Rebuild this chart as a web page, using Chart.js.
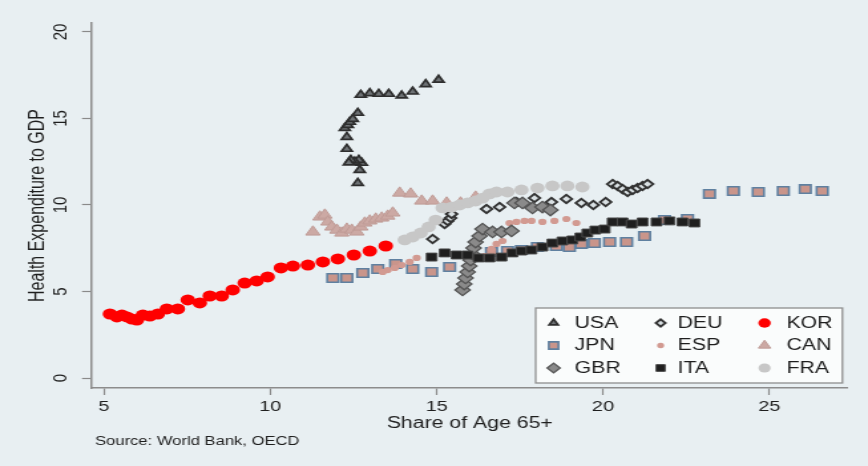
<!DOCTYPE html>
<html>
<head>
<meta charset="utf-8">
<script src="https://cdn.jsdelivr.net/npm/chart.js@4/dist/chart.umd.min.js"></script>
<style>
  html, body { margin: 0; padding: 0; background: #e8eff2; overflow: hidden; }
  /* the figure is laid out on a narrower canvas and widened horizontally */
  #stage { width: 653px; height: 466px; transform: scaleX(1.3292); transform-origin: 0 0; }
  canvas { display: block; }
</style>
</head>
<body>
<div id="stage"><canvas id="chart" width="653" height="466"></canvas></div>
<script>
// Share of population aged 65+ (x, %) against health expenditure (y, % of GDP)
const usaAge    = [12.63, 12.69, 12.75, 12.66, 12.54, 12.42, 12.36, 12.30, 12.30, 12.24, 12.33, 12.39, 12.48, 12.63, 12.72, 12.99, 13.26, 13.56, 13.95, 14.28, 14.67, 15.06];
const usaHealth = [11.27, 12.02, 12.43, 12.60, 12.50, 12.60, 12.45, 13.24, 13.93, 14.45, 14.62, 14.80, 14.97, 15.32, 16.36, 16.46, 16.42, 16.42, 16.32, 16.55, 16.98, 17.23];

const deuAge    = [14.88, 15.24, 15.33, 15.42, 15.45, 16.50, 16.89, 17.40, 17.94, 18.45, 18.90, 19.35, 19.71, 20.08, 20.29, 20.44, 20.59, 20.74, 20.89, 21.04, 21.19, 21.34];
const deuHealth = [8.03, 8.90, 9.08, 9.25, 9.48, 9.77, 9.88, 10.17, 10.40, 10.17, 10.35, 10.12, 10.00, 10.17, 11.21, 11.10, 10.92, 10.75, 10.87, 10.98, 11.10, 11.21];

const korAge    = [5.18, 5.39, 5.54, 5.69, 5.84, 5.99, 6.17, 6.38, 6.62, 6.89, 7.22, 7.52, 7.88, 8.18, 8.54, 8.87, 9.23, 9.59, 9.92, 10.32, 10.68, 11.13, 11.58, 12.03, 12.51, 12.99, 13.47];
const korHealth = [3.70, 3.53, 3.64, 3.53, 3.41, 3.35, 3.64, 3.58, 3.70, 3.99, 3.99, 4.51, 4.34, 4.74, 4.74, 5.09, 5.49, 5.61, 5.84, 6.36, 6.47, 6.53, 6.71, 6.88, 7.11, 7.34, 7.63];

const jpnAge    = [11.88, 12.30, 12.78, 13.23, 13.77, 14.28, 14.85, 15.39, 16.65, 17.13, 17.55, 18.03, 18.60, 18.99, 19.35, 19.74, 20.20, 20.71, 21.25, 21.85, 22.54, 23.20, 23.92, 24.67, 25.42, 26.08, 26.59];
const jpnHealth = [5.78, 5.78, 6.07, 6.30, 6.59, 6.30, 6.13, 6.42, 7.28, 7.34, 7.40, 7.57, 7.63, 7.57, 7.75, 7.80, 7.86, 7.86, 8.21, 9.13, 9.19, 10.64, 10.81, 10.75, 10.81, 10.92, 10.81];

const espAge    = [13.38, 13.53, 13.74, 13.95, 14.19, 14.40, 16.44, 16.65, 16.80, 16.98, 17.19, 17.40, 17.64, 17.85, 18.18, 18.54, 18.90, 19.20];
const espHealth = [6.13, 6.24, 6.36, 6.53, 6.71, 6.94, 7.05, 7.46, 7.75, 7.92, 8.96, 9.02, 9.08, 9.08, 9.02, 9.08, 9.19, 8.96];

const canAge    = [11.28, 11.49, 11.64, 11.73, 11.85, 12.00, 12.15, 12.30, 12.45, 12.60, 12.72, 12.84, 12.99, 13.17, 13.35, 13.53, 13.68, 13.89, 14.22, 14.55, 14.88, 15.30, 15.72, 16.17];
const canHealth = [8.44, 9.31, 9.42, 9.02, 8.73, 8.55, 8.38, 8.61, 8.55, 8.44, 8.73, 8.96, 9.08, 9.19, 9.25, 9.36, 9.54, 10.69, 10.64, 10.23, 10.23, 10.12, 10.12, 10.46];

const gbrAge    = [15.78, 15.83, 15.87, 15.93, 15.98, 16.02, 16.07, 16.11, 16.17, 16.29, 16.38, 16.68, 16.95, 17.25, 17.34, 17.58, 17.88, 18.18, 18.42];
const gbrHealth = [5.09, 5.43, 5.78, 6.13, 6.47, 6.82, 7.17, 7.51, 7.86, 8.21, 8.61, 8.44, 8.44, 8.50, 10.12, 10.12, 9.83, 9.88, 9.71];

const itaAge    = [14.85, 15.24, 15.60, 15.93, 16.26, 16.59, 16.95, 17.28, 17.55, 17.85, 18.18, 18.48, 18.78, 19.08, 19.32, 19.53, 19.77, 20.05, 20.29, 20.59, 20.86, 21.19, 21.61, 22.00, 22.39, 22.75];
const itaHealth = [6.99, 7.23, 7.11, 7.11, 6.94, 6.94, 6.99, 7.23, 7.34, 7.40, 7.57, 7.80, 7.92, 7.98, 8.15, 8.38, 8.55, 8.61, 9.02, 9.02, 8.90, 9.02, 9.02, 9.08, 9.02, 8.96];

const fraAge    = [14.04, 14.28, 14.52, 14.76, 14.97, 15.18, 15.45, 15.69, 15.93, 16.17, 16.38, 16.59, 16.80, 17.13, 17.55, 18.03, 18.48, 18.93, 19.38];
const fraHealth = [7.98, 8.15, 8.38, 8.73, 9.13, 9.83, 9.88, 10.00, 10.12, 10.23, 10.40, 10.64, 10.75, 10.75, 10.87, 10.98, 11.10, 11.10, 11.04];

const countries = ['USA', 'DEU', 'KOR', 'JPN', 'ESP', 'CAN', 'GBR', 'ITA', 'FRA'];
const ages      = [usaAge, deuAge, korAge, jpnAge, espAge, canAge, gbrAge, itaAge, fraAge];
const healths   = [usaHealth, deuHealth, korHealth, jpnHealth, espHealth, canHealth, gbrHealth, itaHealth, fraHealth];

const xTicks = [5, 10, 15, 20, 25];
const yTicks = [0, 5, 10, 15, 20];

// marker look for each country
const markerStyles = {
  USA: { pointStyle: 'triangle', radius: 4.6, bg: '#6f7376', border: '#2e2e2e', bw: 1.7 },
  DEU: { pointStyle: 'rectRot',  radius: 4.2, bg: '#d9e0e3', border: '#333333', bw: 1.9 },
  KOR: { pointStyle: 'circle',   radius: 5.5, bg: '#ff0000', border: '#ff0000', bw: 0 },
  JPN: { pointStyle: 'rect',     radius: 6.0, bg: '#c9958b', border: '#5f80a0', bw: 1.6 },
  ESP: { pointStyle: 'circle',   radius: 3.1, bg: '#d29a91', border: '#d29a91', bw: 0 },
  CAN: { pointStyle: 'triangle', radius: 6.2, bg: '#cca9a4', border: '#bf9b96', bw: 1 },
  GBR: { pointStyle: 'rectRot',  radius: 5.7, bg: '#8a8a8a', border: '#555555', bw: 1.3 },
  ITA: { pointStyle: 'rect',     radius: 5.6, bg: '#1f1f1f', border: '#4a4a4a', bw: 1 },
  FRA: { pointStyle: 'circle',   radius: 5.4, bg: '#c7c7c7', border: '#c7c7c7', bw: 0 }
};

const FONT = '"Liberation Sans", Arial, Helvetica, sans-serif';
const TEXT = '#1e1e1e';

const datasets = countries.map((code, i) => {
  const s = markerStyles[code];
  return {
    label: code,
    data: ages[i].map((x, k) => ({ x: x, y: healths[i][k] })),
    pointStyle: s.pointStyle,
    pointRadius: s.radius,
    backgroundColor: s.bg,
    borderColor: s.border,
    borderWidth: s.bw,
    showLine: false,
    order: countries.length - 1 - i   // later countries are painted on top
  };
});

// three-column key in the lower right corner of the plot
const keyBox = {
  id: 'keyBox',
  afterDraw(chart) {
    const { ctx, chartArea } = chart;
    const w = 230.8, h = 75;
    const left = chartArea.right - 3.8 - w;
    const top = chartArea.bottom - 5 - h;
    ctx.save();
    ctx.fillStyle = '#fafcfc';
    ctx.fillRect(left, top, w, h);
    ctx.strokeStyle = '#8e8e8e';
    ctx.lineWidth = 1.3;
    ctx.strokeRect(left, top, w, h);
    const markX = [13.5, 94, 172.2];
    const textX = [29.3, 106.8, 188.7];
    const rowY = [15, 37.5, 60];
    ctx.font = '16px ' + FONT;
    ctx.textBaseline = 'middle';
    ctx.textAlign = 'left';
    countries.forEach((code, i) => {
      const col = i % 3, row = Math.floor(i / 3);
      const s = markerStyles[code];
      const mx = left + markX[col], my = top + rowY[row];
      ctx.fillStyle = s.bg;
      ctx.strokeStyle = s.border;
      ctx.lineWidth = s.bw;
      Chart.helpers.drawPoint(ctx, { pointStyle: s.pointStyle, radius: s.radius * 0.85, borderWidth: s.bw, rotation: 0 }, mx, my);
      ctx.fillStyle = TEXT;
      ctx.fillText(code, left + textX[col], my + 0.5);
    });
    ctx.restore();
  }
};

const sourceNote = {
  id: 'sourceNote',
  afterDraw(chart) {
    const ctx = chart.ctx;
    ctx.save();
    ctx.font = '12.5px ' + FONT;
    ctx.fillStyle = TEXT;
    ctx.textBaseline = 'middle';
    ctx.textAlign = 'left';
    ctx.fillText('Source: World Bank, OECD', 71.4, 442);
    ctx.restore();
  }
};

new Chart(document.getElementById('chart'), {
  type: 'scatter',
  data: { datasets: datasets },
  options: {
    responsive: false,
    animation: false,
    events: [],
    layout: { padding: { left: 0, right: 15.4, top: 23, bottom: 0 } },
    plugins: { legend: { display: false }, tooltip: { enabled: false } },
    scales: {
      x: {
        type: 'linear',
        min: 4.64,
        max: 27.35,
        afterBuildTicks: (scale) => { scale.ticks = xTicks.map(v => ({ value: v })); },
        afterFit: (scale) => { scale.height = 78; },
        ticks: { font: { family: FONT, size: 15 }, color: TEXT, padding: 3, maxRotation: 0, autoSkip: false },
        grid: { drawOnChartArea: false, drawTicks: true, tickLength: 7, tickColor: '#8a8a8a', tickWidth: 1.2 },
        border: { display: true, color: '#8c8c8c', width: 1.5 },
        title: { display: true, text: 'Share of Age 65+', font: { family: FONT, size: 16 }, color: TEXT, padding: { top: 0, bottom: 32.4 } }
      },
      y: {
        type: 'linear',
        min: -0.578,
        max: 20.52,
        afterBuildTicks: (scale) => { scale.ticks = yTicks.map(v => ({ value: v })); },
        afterFit: (scale) => { scale.width = 69.2; },
        ticks: { font: { family: FONT, size: 15 }, color: TEXT, padding: 7.5, minRotation: 90, maxRotation: 90, crossAlign: 'center', autoSkip: false },
        grid: { drawOnChartArea: false, drawTicks: true, tickLength: 7.5, tickColor: '#8a8a8a', tickWidth: 1.2 },
        border: { display: true, color: '#8c8c8c', width: 1.5 },
        title: { display: true, text: 'Health Expenditure to GDP', font: { family: FONT, size: 16 }, color: TEXT, padding: { top: 19.3, bottom: 0 } }
      }
    }
  },
  plugins: [keyBox, sourceNote]
});
</script>
</body>
</html>
